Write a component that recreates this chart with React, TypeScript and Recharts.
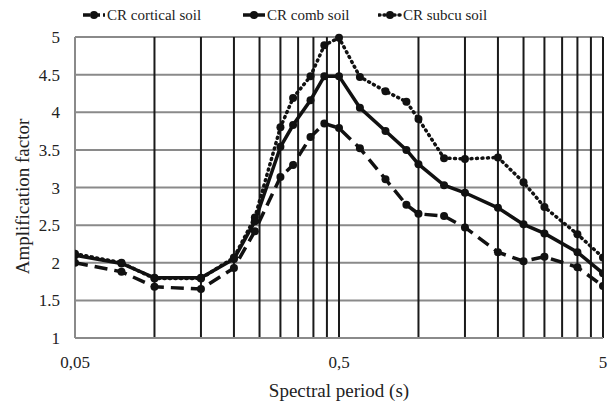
import React from 'react';
import { LineChart, Line, XAxis, YAxis, CartesianGrid, ReferenceLine, Label } from 'recharts';

const periods = [0.05, 0.075, 0.1, 0.15, 0.2, 0.24, 0.3, 0.335, 0.39, 0.44, 0.5, 0.6, 0.75, 0.9, 1.0, 1.25, 1.5, 2.0, 2.5, 3.0, 4.0, 5.0];
const crCortical = [2.0, 1.88, 1.68, 1.65, 1.93, 2.42, 3.14, 3.3, 3.67, 3.85, 3.79, 3.52, 3.11, 2.77, 2.65, 2.62, 2.47, 2.14, 2.02, 2.08, 1.94, 1.69];
const crComb = [2.1, 1.99, 1.8, 1.8, 2.05, 2.55, 3.54, 3.83, 4.16, 4.48, 4.48, 4.06, 3.75, 3.5, 3.31, 3.03, 2.93, 2.73, 2.51, 2.39, 2.14, 1.86];
const crSubcu = [2.12, 2.0, 1.79, 1.79, 2.07, 2.6, 3.8, 4.19, 4.48, 4.89, 4.99, 4.47, 4.28, 4.14, 3.91, 3.39, 3.38, 3.4, 3.07, 2.74, 2.38, 2.07];

const gridPeriods = [0.1, 0.15, 0.2, 0.25, 0.3, 0.35, 0.4, 0.45, 0.5, 1, 1.5, 2, 2.5, 3, 3.5, 4, 4.5, 5];
const xTicks = [0.05, 0.5, 5];
const yTicks = [1, 1.5, 2, 2.5, 3, 3.5, 4, 4.5, 5];

const seriesNames = ['CR cortical soil', 'CR comb soil', 'CR subcu soil'];

const data = periods.map((t, i) => ({
  t,
  cortical: crCortical[i],
  comb: crComb[i],
  subcu: crSubcu[i],
}));

const FONT = '"Liberation Serif", "DejaVu Serif", serif';
const INK = '#111';

const styles = [
  { key: 'cortical', dash: '13 7', cap: 'butt' as const },
  { key: 'comb', dash: undefined, cap: 'butt' as const },
  { key: 'subcu', dash: '1 4.5', cap: 'round' as const },
];

const legendLefts = [82, 242, 378];

function LegendIcon({ dash, cap }: { dash?: string; cap: 'butt' | 'round' }) {
  return (
    <svg width={24} height={12} style={{ display: 'block' }}>
      <line x1={1} y1={6} x2={23} y2={6} stroke={INK} strokeWidth={3.5}
        strokeDasharray={dash ? (cap === 'round' ? '1 4' : '7 3') : undefined} strokeLinecap={cap} />
      <circle cx={12} cy={6} r={4} fill={INK} />
    </svg>
  );
}

export default function App() {
  return (
    <div style={{ position: 'absolute', left: 0, top: 0, width: 612, height: 407, background: '#fff', fontFamily: FONT }}>
      {seriesNames.map((name, i) => (
        <div key={name} style={{ position: 'absolute', left: legendLefts[i], top: 6, height: 18, display: 'flex', alignItems: 'center' }}>
          <LegendIcon dash={styles[i].dash} cap={styles[i].cap} />
          <span style={{ fontSize: 15, color: '#222', marginLeft: 1, whiteSpace: 'nowrap' }}>{name}</span>
        </div>
      ))}
      <LineChart width={612} height={407} data={data} margin={{ top: 37, right: 9, left: 15, bottom: 9 }}>
        <CartesianGrid vertical={false} stroke="#8a8a8a" strokeWidth={2} />
        {gridPeriods.map((p) => (
          <ReferenceLine key={p} x={p} stroke="#1a1a1a" strokeWidth={2} />
        ))}
        <XAxis
          dataKey="t"
          type="number"
          scale="log"
          domain={[0.05, 5]}
          ticks={xTicks}
          allowDataOverflow
          tickFormatter={(v: number) => String(v).replace('.', ',')}
          tickLine={false}
          tickSize={0}
          tickMargin={18}
          axisLine={{ stroke: '#8a8a8a', strokeWidth: 2 }}
          tick={{ fontSize: 17, fill: '#222', fontFamily: FONT }}
          height={60}
        >
          <Label value="Spectral period (s)" position="center" dy={22} style={{ fontSize: 19, fill: '#222', fontFamily: FONT }} />
        </XAxis>
        <YAxis
          type="number"
          domain={[1, 5]}
          ticks={yTicks}
          tickLine={false}
          tickSize={0}
          tickMargin={15}
          axisLine={{ stroke: '#8a8a8a', strokeWidth: 2 }}
          tick={{ fontSize: 17, fill: '#222', fontFamily: FONT }}
          width={60}
        >
          <Label value="Amplification factor" position="center" angle={-90} dx={-23} dy={9} style={{ fontSize: 19, fill: '#222', fontFamily: FONT, textAnchor: 'middle' }} />
        </YAxis>
        {styles.map((s) => (
          <Line
            key={s.key}
            dataKey={s.key}
            type="linear"
            stroke={INK}
            strokeWidth={3.5}
            strokeDasharray={s.dash}
            strokeLinecap={s.cap}
            dot={{ r: 4, fill: INK, stroke: 'none', strokeDasharray: 'none' }}
            isAnimationActive={false}
          />
        ))}
      </LineChart>
    </div>
  );
}
